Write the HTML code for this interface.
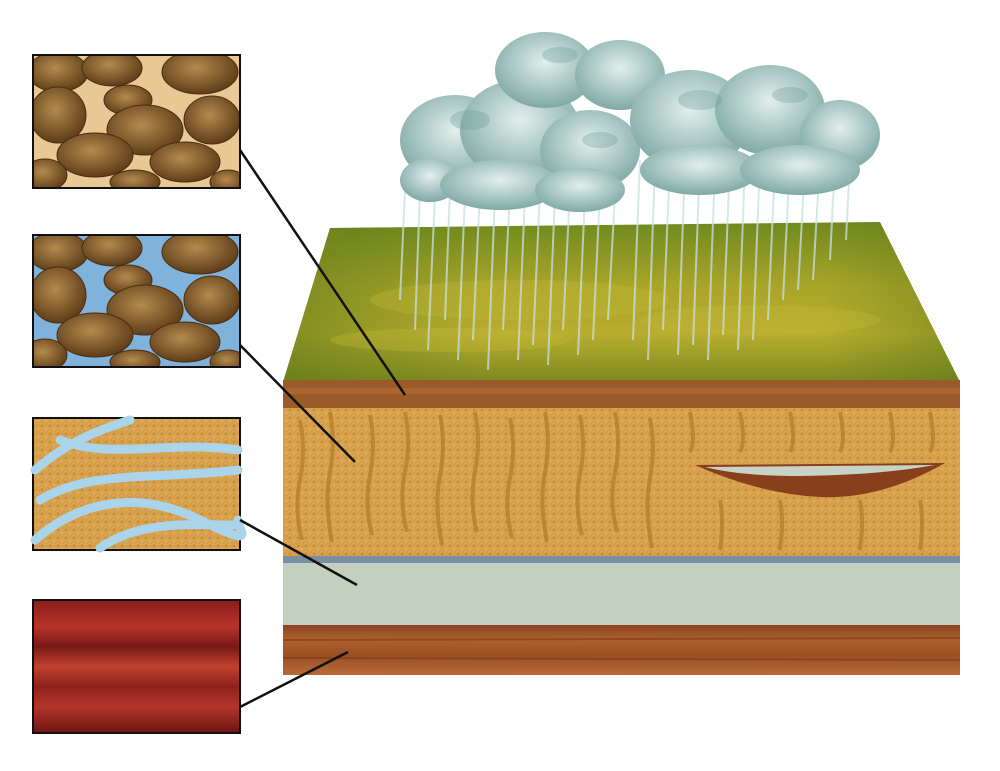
<!DOCTYPE html>
<html><head><meta charset="utf-8"><style>html,body{margin:0;padding:0;background:#fff}svg{display:block}</style></head>
<body>
<svg width="1000" height="771" viewBox="0 0 1000 771" xmlns="http://www.w3.org/2000/svg">
<defs>
<linearGradient id="grass" x1="0" y1="0" x2="0" y2="1">
<stop offset="0" stop-color="#6f8a1e"/><stop offset="0.4" stop-color="#a9a52a"/><stop offset="0.7" stop-color="#b8ad2e"/><stop offset="1" stop-color="#7d8a20"/></linearGradient>
<linearGradient id="grassH" x1="0" y1="0" x2="1" y2="0">
<stop offset="0" stop-color="#5f7a18" stop-opacity="0.6"/><stop offset="0.3" stop-color="#5f7a18" stop-opacity="0"/><stop offset="0.8" stop-color="#5f7a18" stop-opacity="0"/><stop offset="1" stop-color="#5f7a18" stop-opacity="0.5"/></linearGradient>
<linearGradient id="red" x1="0" y1="0" x2="0" y2="1">
<stop offset="0" stop-color="#8a1e1a"/><stop offset="0.2" stop-color="#b6342a"/><stop offset="0.35" stop-color="#7a1916"/><stop offset="0.5" stop-color="#c0412f"/><stop offset="0.65" stop-color="#8e211b"/><stop offset="0.8" stop-color="#b3362a"/><stop offset="1" stop-color="#6e1512"/></linearGradient>
<linearGradient id="base" x1="0" y1="0" x2="0" y2="1">
<stop offset="0" stop-color="#8a4420"/><stop offset="0.3" stop-color="#b0602e"/><stop offset="0.6" stop-color="#9a4f25"/><stop offset="1" stop-color="#b86b35"/></linearGradient>
<pattern id="dots" width="8" height="8" patternUnits="userSpaceOnUse">
<rect width="8" height="8" fill="#d6a04c"/><circle cx="2" cy="2" r="1.2" fill="#c48a38"/><circle cx="6" cy="5" r="1" fill="#e8b862"/></pattern>
<radialGradient id="rock" cx="0.45" cy="0.4" r="0.6"><stop offset="0" stop-color="#b58a4e"/><stop offset="1" stop-color="#5e3d18"/></radialGradient>
<radialGradient id="cloud" cx="0.5" cy="0.4" r="0.6"><stop offset="0" stop-color="#e2efec"/><stop offset="1" stop-color="#7fa9a5"/></radialGradient>
<clipPath id="c1"><rect x="33" y="55" width="207" height="133"/></clipPath>
<clipPath id="c2"><rect x="33" y="235" width="207" height="132"/></clipPath>
<g id="rocks" fill="url(#rock)" stroke="#4a2f12" stroke-width="1">
<ellipse cx="58" cy="72" rx="30" ry="20"/><ellipse cx="112" cy="68" rx="30" ry="18"/><ellipse cx="200" cy="72" rx="38" ry="22"/>
<ellipse cx="58" cy="115" rx="28" ry="28"/><ellipse cx="128" cy="100" rx="24" ry="15"/><ellipse cx="145" cy="130" rx="38" ry="25"/>
<ellipse cx="212" cy="120" rx="28" ry="24"/><ellipse cx="95" cy="155" rx="38" ry="22"/><ellipse cx="185" cy="162" rx="35" ry="20"/>
<ellipse cx="45" cy="175" rx="22" ry="16"/><ellipse cx="135" cy="182" rx="25" ry="12"/><ellipse cx="228" cy="182" rx="18" ry="12"/></g>
</defs>

<!-- Box 1 -->
<rect x="33" y="55" width="207" height="133" fill="#e8c894"/>
<g clip-path="url(#c1)"><use href="#rocks"/></g>
<rect x="33" y="55" width="207" height="133" fill="none" stroke="#111" stroke-width="2"/>
<!-- Box 2 -->
<rect x="33" y="235" width="207" height="132" fill="#7fb3dc"/>
<g clip-path="url(#c2)"><use href="#rocks" transform="translate(0,180)"/></g>
<rect x="33" y="235" width="207" height="132" fill="none" stroke="#111" stroke-width="2"/>
<!-- Box 3 -->
<rect x="33" y="418" width="207" height="132" fill="url(#dots)" stroke="#111" stroke-width="2"/>
<g fill="none" stroke="#a9d4ea" stroke-width="9" stroke-linecap="round">
<path d="M35,470 C70,440 100,430 130,420"/><path d="M40,500 C90,470 150,480 238,470"/><path d="M60,440 C110,460 170,440 238,450"/>
<path d="M35,540 C80,500 140,490 200,520 S238,530 238,520"/><path d="M100,548 C140,520 190,525 238,525"/></g>
<!-- Box 4 -->
<rect x="33" y="600" width="207" height="133" fill="url(#red)" stroke="#111" stroke-width="2"/>

<!-- Block -->
<polygon points="283,382 330,228 880,222 960,382" fill="url(#grass)"/>
<polygon points="283,382 330,228 880,222 960,382" fill="url(#grassH)"/>
<g fill="#c2b838" opacity="0.35"><ellipse cx="520" cy="300" rx="150" ry="20"/><ellipse cx="760" cy="320" rx="120" ry="15"/><ellipse cx="450" cy="340" rx="120" ry="12"/></g>
<rect x="283" y="380" width="677" height="28" fill="#9b5a2a"/>
<rect x="283" y="388" width="677" height="6" fill="#b06a35" opacity="0.7"/>
<rect x="283" y="408" width="677" height="150" fill="url(#dots)"/>
<g stroke="#b8802e" stroke-width="4" fill="none" opacity="0.8">
<path d="M300,420 q6,30 0,60 q-6,30 2,60"/><path d="M330,412 q6,30 0,60 q-6,30 2,70"/><path d="M370,415 q6,30 0,60 q-6,30 2,60"/>
<path d="M405,412 q6,30 0,60 q-6,30 2,60"/><path d="M440,415 q6,30 0,60 q-6,30 2,70"/><path d="M475,412 q6,30 0,60 q-6,30 2,60"/>
<path d="M510,418 q6,30 0,60 q-6,30 2,60"/><path d="M545,412 q6,30 0,60 q-6,30 2,70"/><path d="M580,415 q6,30 0,60 q-6,30 2,60"/>
<path d="M615,412 q6,30 0,60 q-6,30 2,60"/><path d="M650,418 q6,30 0,60 q-6,30 2,70"/><path d="M690,412 q6,30 0,40"/>
<path d="M740,412 q6,30 0,40"/><path d="M790,412 q6,30 0,40"/><path d="M840,412 q6,30 0,40"/><path d="M890,412 q6,30 0,40"/>
<path d="M930,412 q6,30 0,40"/><path d="M720,500 q4,20 0,50"/><path d="M780,500 q4,20 0,50"/><path d="M860,500 q4,20 0,50"/><path d="M920,500 q4,20 0,50"/></g>
<path d="M695,465 L945,463 Q880,500 820,497 Q760,494 695,465 Z" fill="#8a3f1c"/>
<path d="M705,467 L935,465 Q880,475 800,476 Q740,476 705,467 Z" fill="#c6d3c6"/>
<rect x="283" y="556" width="677" height="7" fill="#7b8fa3"/>
<rect x="283" y="563" width="677" height="62" fill="#c3cfbf"/>
<rect x="283" y="625" width="677" height="50" fill="url(#base)"/>
<g stroke="#7a3a18" stroke-width="2" opacity="0.6"><line x1="283" y1="640" x2="960" y2="638"/><line x1="283" y1="658" x2="960" y2="660"/></g>

<!-- Rain -->
<g stroke="#c9dfe2" stroke-width="2" opacity="0.75">
<line x1="405" y1="190" x2="400" y2="300"/><line x1="420" y1="190" x2="415" y2="330"/><line x1="435" y1="195" x2="428" y2="350"/>
<line x1="450" y1="190" x2="445" y2="320"/><line x1="465" y1="195" x2="458" y2="360"/><line x1="480" y1="190" x2="473" y2="340"/>
<line x1="495" y1="195" x2="488" y2="370"/><line x1="510" y1="190" x2="503" y2="330"/><line x1="525" y1="195" x2="518" y2="360"/>
<line x1="540" y1="190" x2="533" y2="345"/><line x1="555" y1="195" x2="548" y2="365"/><line x1="570" y1="190" x2="563" y2="330"/>
<line x1="585" y1="195" x2="578" y2="355"/><line x1="600" y1="190" x2="593" y2="340"/><line x1="615" y1="195" x2="608" y2="320"/>
<line x1="640" y1="160" x2="633" y2="340"/><line x1="655" y1="165" x2="648" y2="360"/><line x1="670" y1="160" x2="663" y2="330"/>
<line x1="685" y1="165" x2="678" y2="355"/><line x1="700" y1="160" x2="693" y2="345"/><line x1="715" y1="165" x2="708" y2="360"/>
<line x1="730" y1="160" x2="723" y2="335"/><line x1="745" y1="165" x2="738" y2="350"/><line x1="760" y1="160" x2="753" y2="340"/>
<line x1="775" y1="165" x2="768" y2="320"/><line x1="790" y1="160" x2="783" y2="300"/><line x1="805" y1="165" x2="798" y2="290"/>
<line x1="820" y1="160" x2="813" y2="280"/><line x1="835" y1="160" x2="830" y2="260"/><line x1="850" y1="160" x2="846" y2="240"/></g>

<!-- Clouds -->
<g fill="url(#cloud)">
<ellipse cx="455" cy="140" rx="55" ry="45"/><ellipse cx="520" cy="130" rx="60" ry="50"/><ellipse cx="590" cy="150" rx="50" ry="40"/>
<ellipse cx="430" cy="180" rx="30" ry="22"/><ellipse cx="500" cy="185" rx="60" ry="25"/><ellipse cx="580" cy="190" rx="45" ry="22"/>
<ellipse cx="545" cy="70" rx="50" ry="38"/><ellipse cx="620" cy="75" rx="45" ry="35"/>
<ellipse cx="690" cy="120" rx="60" ry="50"/><ellipse cx="770" cy="110" rx="55" ry="45"/><ellipse cx="840" cy="135" rx="40" ry="35"/>
<ellipse cx="700" cy="170" rx="60" ry="25"/><ellipse cx="800" cy="170" rx="60" ry="25"/></g>
<g fill="#6f9f9a" opacity="0.35"><ellipse cx="470" cy="120" rx="20" ry="10"/><ellipse cx="560" cy="55" rx="18" ry="8"/><ellipse cx="700" cy="100" rx="22" ry="10"/><ellipse cx="790" cy="95" rx="18" ry="8"/><ellipse cx="600" cy="140" rx="18" ry="8"/></g>

<!-- Leader lines -->
<g stroke="#111" stroke-width="2.5">
<line x1="240" y1="150" x2="405" y2="395"/><line x1="240" y1="345" x2="355" y2="462"/>
<line x1="240" y1="520" x2="357" y2="585"/><line x1="240" y1="707" x2="348" y2="652"/></g>
</svg>
</body></html>
